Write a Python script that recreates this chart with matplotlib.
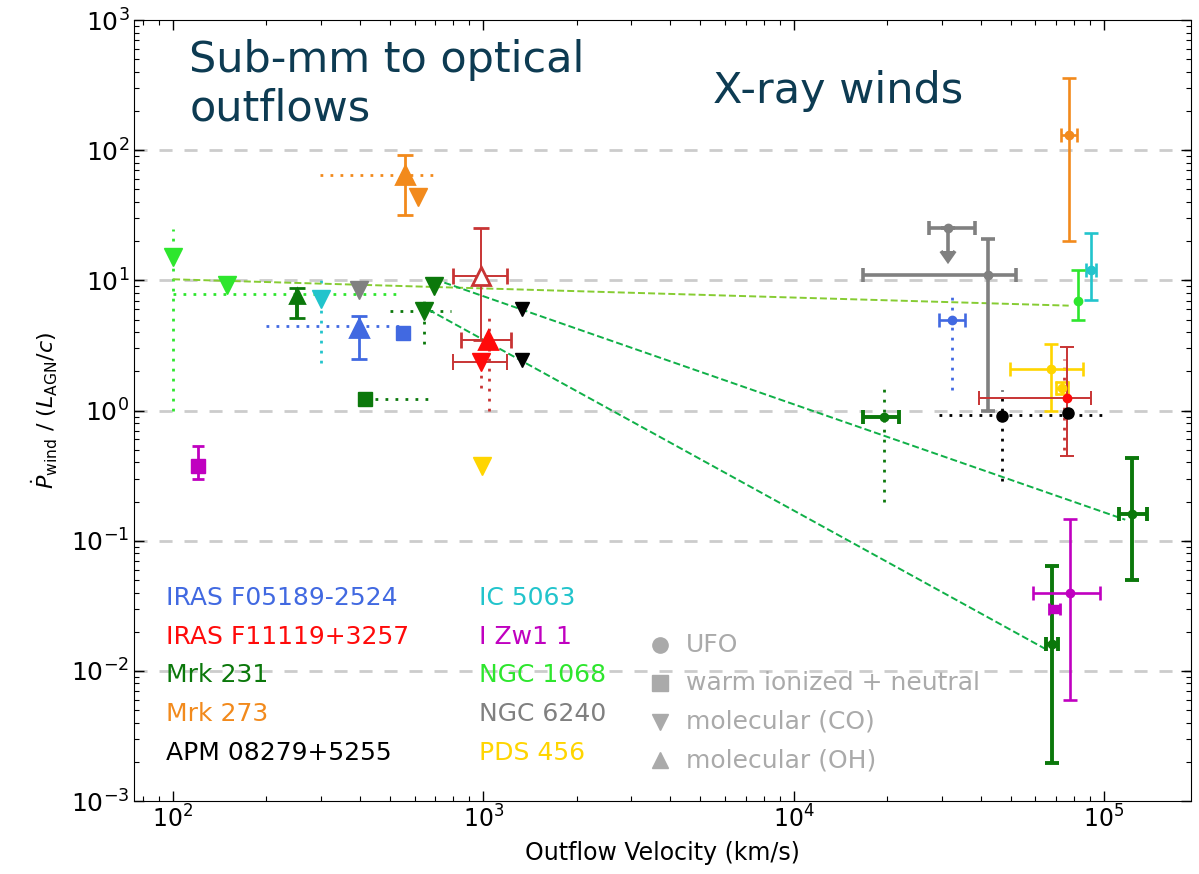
import matplotlib
matplotlib.use("Agg")
import matplotlib.pyplot as plt
from matplotlib.ticker import NullFormatter
import numpy as np

nan = np.nan

# source names in legend order and their colours
sources = ["IRAS F05189-2524", "IRAS F11119+3257", "Mrk 231", "Mrk 273", "APM 08279+5255",
           "IC 5063", "I Zw1 1", "NGC 1068", "NGC 6240", "PDS 456"]
colors = {
    "IRAS F05189-2524": "#4169e1",
    "IRAS F11119+3257": "#ff0a0a",
    "Mrk 231": "#0b780b",
    "Mrk 273": "#f28a1c",
    "APM 08279+5255": "#000000",
    "IC 5063": "#22c4cc",
    "I Zw1 1": "#c000c0",
    "NGC 1068": "#2ee62e",
    "NGC 6240": "#808080",
    "PDS 456": "#ffd500",
}
bar_colors = {"IRAS F11119+3257": "#c83434"}
bar_lw = {"NGC 6240": 2.6, "Mrk 231": 2.8, "IRAS F11119+3257": 1.4}

# X-ray winds (UFOs)
ufo_src = ["Mrk 273", "NGC 6240", "NGC 6240", "IRAS F05189-2524", "IC 5063", "NGC 1068",
           "PDS 456", "PDS 456", "IRAS F11119+3257", "APM 08279+5255", "APM 08279+5255",
           "Mrk 231", "Mrk 231", "Mrk 231", "I Zw1 1"]
ufo_v = [76900, 31400, 42200, 32400, 91000, 82400, 67600, 73300, 76000, 46900, 76600,
         19600, 123000, 67900, 77800]
ufo_p = [130, 25.1, 11.1, 4.95, 12.0, 7.0, 2.09, 1.5, 1.25, 0.916, 0.95,
         0.895, 0.161, 0.0161, 0.0396]
ufo_v_lo = [72500, 27300, 16700, 29300, 87500, nan, 49900, 70000, 39600, nan, nan,
            16700, 112000, 65000, 58900]
ufo_v_hi = [81500, 38300, 52000, 35600, 94500, nan, 85300, 76500, 91000, nan, nan,
            21800, 137000, 71000, 97200]
ufo_p_lo = [20, 16.8, 1.0, nan, 7.05, 4.95, 0.99, 1.35, 0.45, nan, nan,
            nan, 0.0495, 0.00197, 0.006]
ufo_p_hi = [357, nan, 20.9, nan, 23.3, 12.0, 3.22, 1.65, 3.09, nan, nan,
            nan, 0.43, 0.0634, 0.147]
ufo_uplim = [False, True, False, False, False, False, False, False, False, False, False,
             False, False, False, False]

# molecular (CO)
co_src = ["NGC 1068", "NGC 1068", "IC 5063", "NGC 6240", "Mrk 231", "Mrk 231", "Mrk 273",
          "IRAS F11119+3257", "APM 08279+5255", "APM 08279+5255", "PDS 456"]
co_v = [100, 149, 299, 396, 693, 644, 615, 985, 1327, 1327, 993]
co_p = [15, 9.3, 7.2, 8.5, 9.0, 5.8, 44, 2.35, 6.05, 2.46, 0.373]
co_v_lo = [nan, nan, nan, nan, nan, nan, nan, 798, nan, nan, nan]
co_v_hi = [nan, nan, nan, nan, nan, nan, nan, 1194, nan, nan, nan]

# molecular (OH)
oh_src = ["Mrk 231", "IRAS F05189-2524", "Mrk 273", "IRAS F11119+3257", "IRAS F11119+3257"]
oh_v = [251, 396, 557, 985, 1035]
oh_p = [7.6, 4.3, 65, 10.9, 3.5]
oh_v_lo = [nan, nan, nan, 798, 845]
oh_v_hi = [nan, nan, nan, 1194, 1231]
oh_p_lo = [5.1, 2.5, 31.6, 3.5, nan]
oh_p_hi = [8.8, 5.3, 91.6, 25.4, nan]
oh_open = [False, False, False, True, False]

# warm ionized + neutral
ion_src = ["IRAS F05189-2524", "Mrk 231", "I Zw1 1", "I Zw1 1"]
ion_v = [551, 414, 120, 69300]
ion_p = [3.96, 1.23, 0.373, 0.0299]
ion_v_lo = [nan, nan, nan, 66500]
ion_v_hi = [nan, nan, nan, 72000]
ion_p_lo = [nan, nan, 0.30, nan]
ion_p_hi = [nan, nan, 0.53, nan]

# dotted velocity ranges: source, momentum ratio, v from, v to
hrange_src = ["NGC 1068", "IRAS F05189-2524", "Mrk 231", "Mrk 231", "Mrk 273", "APM 08279+5255"]
hrange_p = [7.8, 4.45, 1.23, 5.8, 65, 0.93]
hrange_v0 = [100, 200, 414, 499, 297, 29400]
hrange_v1 = [532, 543, 663, 788, 697, 103000]

# dotted momentum ranges: source, velocity, ratio from, ratio to
vrange_src = ["NGC 1068", "IC 5063", "Mrk 231", "IRAS F11119+3257", "IRAS F11119+3257",
              "IRAS F05189-2524", "APM 08279+5255", "Mrk 231", "IRAS F11119+3257"]
vrange_v = [100, 299, 644, 1040, 985, 32400, 46900, 19600, 74000]
vrange_p0 = [1.0, 2.34, 3.27, 1.0, 1.5, 1.45, 0.29, 0.2, 0.5]
vrange_p1 = [24.7, 11.1, 7.6, 5.3, 2.35, 7.8, 1.45, 1.5, 2.5]

# energy-conserving model tracks
track_v0 = [100, 697, 623]
track_p0 = [10.2, 10.2, 6.5]
track_v1 = [76900, 117000, 65500]
track_p1 = [6.4, 0.145, 0.0145]
track_colors = ["#86cc32", "#10b048", "#10b048"]

x_ticks = [1e2, 1e3, 1e4, 1e5]
y_ticks = [1e-3, 1e-2, 1e-1, 1e0, 1e1, 1e2, 1e3]


def err(val, lo, hi):
    lo = 0 if np.isnan(lo) else val - lo
    hi = 0 if np.isnan(hi) else hi - val
    if lo == 0 and hi == 0:
        return None
    return [[lo], [hi]]


fig = plt.figure(figsize=(11.99, 8.74), dpi=100)
ax = fig.add_axes([0.112, 0.0835, 0.881, 0.8935])
ax.set_xscale("log")
ax.set_yscale("log")
ax.set_xlim(75, 1.9e5)
ax.set_ylim(1e-3, 1e3)
ax.set_xticks(x_ticks)
ax.set_yticks(y_ticks)

for k in range(-2, 3):
    ax.axhline(10.0 ** k, color="#cccccc", lw=2, ls=(0, (4.7, 4.3)), zorder=0)

dot = (0, (1, 2.6))
for s, p, v0, v1 in zip(hrange_src, hrange_p, hrange_v0, hrange_v1):
    ax.plot([v0, v1], [p, p], ls=dot, lw=2, color=colors[s], zorder=1)
for s, v, p0, p1 in zip(vrange_src, vrange_v, vrange_p0, vrange_p1):
    c = bar_colors.get(s, colors[s])
    ax.plot([v, v], [p0, p1], ls=dot, lw=2, color=c, zorder=1)

for v0, p0, v1, p1, c in zip(track_v0, track_p0, track_v1, track_p1, track_colors):
    ax.plot([v0, v1], [p0, p1], ls=(0, (3.6, 1.6)), lw=1.4, color=c, zorder=2)

# UFOs
for i, s in enumerate(ufo_src):
    c = colors[s]
    bc = bar_colors.get(s, c)
    lw = bar_lw.get(s, 1.9)
    v, p = ufo_v[i], ufo_p[i]
    ax.errorbar(v, p, xerr=err(v, ufo_v_lo[i], ufo_v_hi[i]),
                yerr=err(p, ufo_p_lo[i], ufo_p_hi[i]), uplims=ufo_uplim[i],
                fmt="o", ms=8 if s == "APM 08279+5255" else 6, color=c, ecolor=bc,
                elinewidth=lw, capsize=5, capthick=lw, zorder=3)

# warm ionized + neutral
for i, s in enumerate(ion_src):
    c = colors[s]
    v, p = ion_v[i], ion_p[i]
    small = v > 1e4
    ax.errorbar(v, p, xerr=err(v, ion_v_lo[i], ion_v_hi[i]),
                yerr=err(p, ion_p_lo[i], ion_p_hi[i]),
                fmt="s", ms=6 if small else 10, color=c, elinewidth=2,
                capsize=4, capthick=2, zorder=3)

# molecular (CO)
for i, s in enumerate(co_src):
    c = colors[s]
    bc = bar_colors.get(s, c)
    v, p = co_v[i], co_p[i]
    ax.errorbar(v, p, xerr=err(v, co_v_lo[i], co_v_hi[i]),
                fmt="v", ms=9.5 if s == "APM 08279+5255" else 13, color=c, ecolor=bc,
                elinewidth=bar_lw.get(s, 2), capsize=6, capthick=bar_lw.get(s, 2), zorder=4)

# molecular (OH)
for i, s in enumerate(oh_src):
    c = colors[s]
    bc = bar_colors.get(s, c)
    v, p = oh_v[i], oh_p[i]
    ax.errorbar(v, p, xerr=err(v, oh_v_lo[i], oh_v_hi[i]),
                yerr=err(p, oh_p_lo[i], oh_p_hi[i]),
                fmt="^", ms=10.5 if s == "Mrk 231" else 13,
                mfc="white" if oh_open[i] else c, mec=bc if oh_open[i] else c, mew=2,
                ecolor=bc, elinewidth=bar_lw.get(s, 2), capsize=6,
                capthick=bar_lw.get(s, 2), zorder=4)

# source names
for j, s in enumerate(sources):
    col, row = divmod(j, 5)
    ax.text(0.030 + 0.296 * col, 0.260 - 0.0495 * row, s, color=colors[s],
            fontsize=18, va="center", transform=ax.transAxes)

# tracer key
gray = "#aaaaaa"
key_labels = ["UFO", "warm ionized + neutral", "molecular (CO)", "molecular (OH)"]
key_markers = ["o", "s", "v", "^"]
for j, (lab, m) in enumerate(zip(key_labels, key_markers)):
    y = 0.200 - 0.0493 * j
    ax.plot(0.498, y, marker=m, ms=11, color=gray, ls="none",
            transform=ax.transAxes, clip_on=False)
    ax.text(0.522, y, lab, color=gray, fontsize=18, va="center", transform=ax.transAxes)

ax.xaxis.set_minor_formatter(NullFormatter())
ax.yaxis.set_minor_formatter(NullFormatter())
ax.tick_params(which="both", direction="in", top=True, right=True, labelsize=17)
ax.tick_params(axis="y", labelsize=18)
ax.tick_params(which="major", length=7, width=1)
ax.tick_params(which="minor", length=3.5, width=0.8)
ax.set_xlabel("Outflow Velocity (km/s)", fontsize=17, labelpad=6)
ax.set_ylabel(r"$\dot{P}_{\rm wind}$ / ($L_{\rm AGN}/c$)", fontsize=16, labelpad=8)

navy = "#0d3b52"
fig.text(0.158, 0.955, "Sub-mm to optical\noutflows", color=navy, fontsize=31,
         va="top", ha="left", linespacing=1.2)
fig.text(0.595, 0.92, "X-ray winds", color=navy, fontsize=31, va="top", ha="left")

fig.savefig("out.png", dpi=100)
